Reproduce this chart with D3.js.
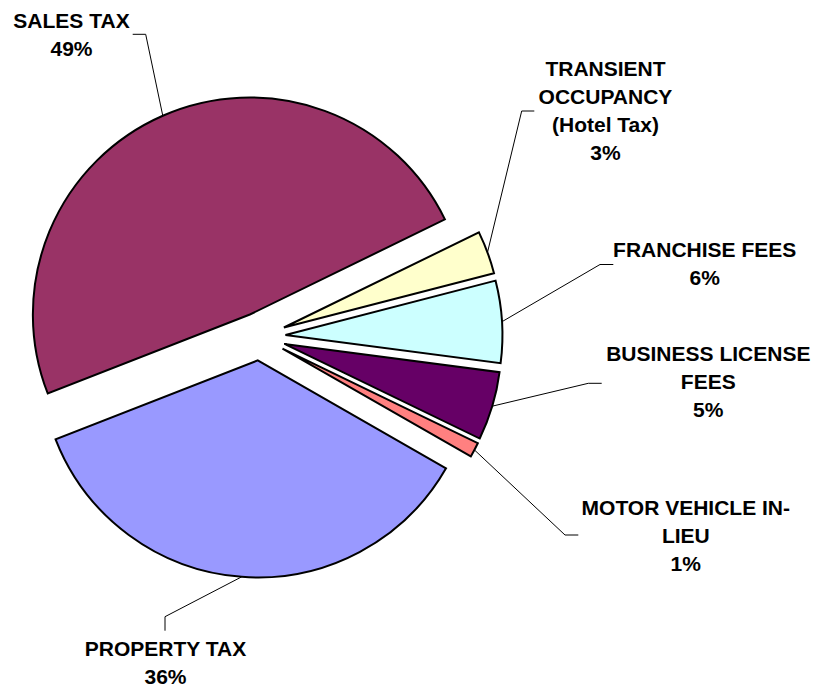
<!DOCTYPE html>
<html>
<head>
<meta charset="utf-8">
<script src="https://cdn.jsdelivr.net/npm/d3@7"></script>
<style>
  html, body { margin: 0; padding: 0; background: #fff; }
  svg { display: block; font-family: "Liberation Sans", Arial, sans-serif; }
</style>
</head>
<body>
<script>
'use strict';

// slices in clockwise order, starting just after SALES TAX
const categories = ['TRANSIENT', 'FRANCHISE', 'BUSINESS', 'MOTOR', 'PROPERTY', 'SALES'];
const labelLines = [
  ['TRANSIENT', 'OCCUPANCY', '(Hotel Tax)'],
  ['FRANCHISE FEES'],
  ['BUSINESS LICENSE', 'FEES'],
  ['MOTOR VEHICLE IN-', 'LIEU'],
  ['PROPERTY TAX'],
  ['SALES TAX']
];
const shares = [3.2, 6.1, 5.1, 1.1, 35.8, 48.7]; // percent
const colors = ['#FFFFCC', '#CCFFFF', '#660066', '#FF8080', '#9999FF', '#993366'];

// label placement: text centre x, first baseline y, leader elbow and end
const labelLayout = {
  TRANSIENT: { x: 605.5, y: 76,  elbow: [521.7, 111],   end: [534.3, 111] },
  FRANCHISE: { x: 704.7, y: 257, elbow: [600, 264.5],   end: [613.3, 264.5] },
  BUSINESS:  { x: 708.3, y: 361, elbow: [588.3, 383.3], end: [601.7, 383.3] },
  MOTOR:     { x: 685.8, y: 515, elbow: [565, 535],     end: [578.3, 535] },
  PROPERTY:  { x: 165.5, y: 656, elbow: [165, 616.7],   end: [165, 630.7] },
  SALES:     { x: 71.5,  y: 27.5, elbow: [145.7, 34.3], end: [132.7, 34.3] }
};

const width = 815, height = 690;
const cx = 259.5, cy = 336.5, radius = 217, explode = 24;
const lineGap = 28;

const data = categories.map((c, i) => ({ key: c, lines: labelLines[i], value: shares[i], color: colors[i] }));

const start = 64 * Math.PI / 180;
const pie = d3.pie()
  .sort(null)
  .value(d => d.value)
  .startAngle(start)
  .endAngle(start + 2 * Math.PI);

const arc = d3.arc().innerRadius(0).outerRadius(radius);
const arcs = pie(data);

const svg = d3.select('body').append('svg')
  .attr('width', width)
  .attr('height', height)
  .attr('viewBox', [0, 0, width, height]);

function offset(d, dist) {
  const a = (d.startAngle + d.endAngle) / 2;
  return [Math.sin(a) * dist, -Math.cos(a) * dist];
}

// small slices sit a little further out than the two big ones
const explodeFor = d => d.data.value < 10 ? explode + 2 : explode;

const slice = svg.append('g')
  .selectAll('g')
  .data(arcs)
  .join('g')
    .attr('transform', d => {
      const [dx, dy] = offset(d, explodeFor(d));
      return `translate(${cx + dx},${cy + dy})`;
    });

slice.append('path')
  .attr('d', arc)
  .attr('fill', d => d.data.color)
  .attr('stroke', '#000')
  .attr('stroke-width', 2)
  .attr('stroke-linejoin', 'miter');

// leader lines from the middle of each outer arc
svg.append('g')
  .selectAll('polyline')
  .data(arcs)
  .join('polyline')
    .attr('fill', 'none')
    .attr('stroke', '#000')
    .attr('stroke-width', 1)
    .attr('points', d => {
      const [ex, ey] = offset(d, explodeFor(d));
      const [ox, oy] = offset(d, radius);
      const l = labelLayout[d.data.key];
      return [[cx + ex + ox, cy + ey + oy], l.elbow, l.end].map(p => p.join(',')).join(' ');
    });

// labels
const fmt = v => `${Math.round(v)}%`;
svg.append('g')
  .selectAll('text')
  .data(arcs)
  .join('text')
    .attr('text-anchor', 'middle')
    .attr('font-size', 21)
    .attr('font-weight', 'bold')
    .attr('fill', '#000')
    .each(function(d) {
      const l = labelLayout[d.data.key];
      const lines = d.data.lines.concat([fmt(d.data.value)]);
      d3.select(this).selectAll('tspan')
        .data(lines)
        .join('tspan')
          .attr('x', l.x)
          .attr('y', (t, i) => l.y + i * lineGap)
          .text(t => t);
    });
</script>
</body>
</html>
